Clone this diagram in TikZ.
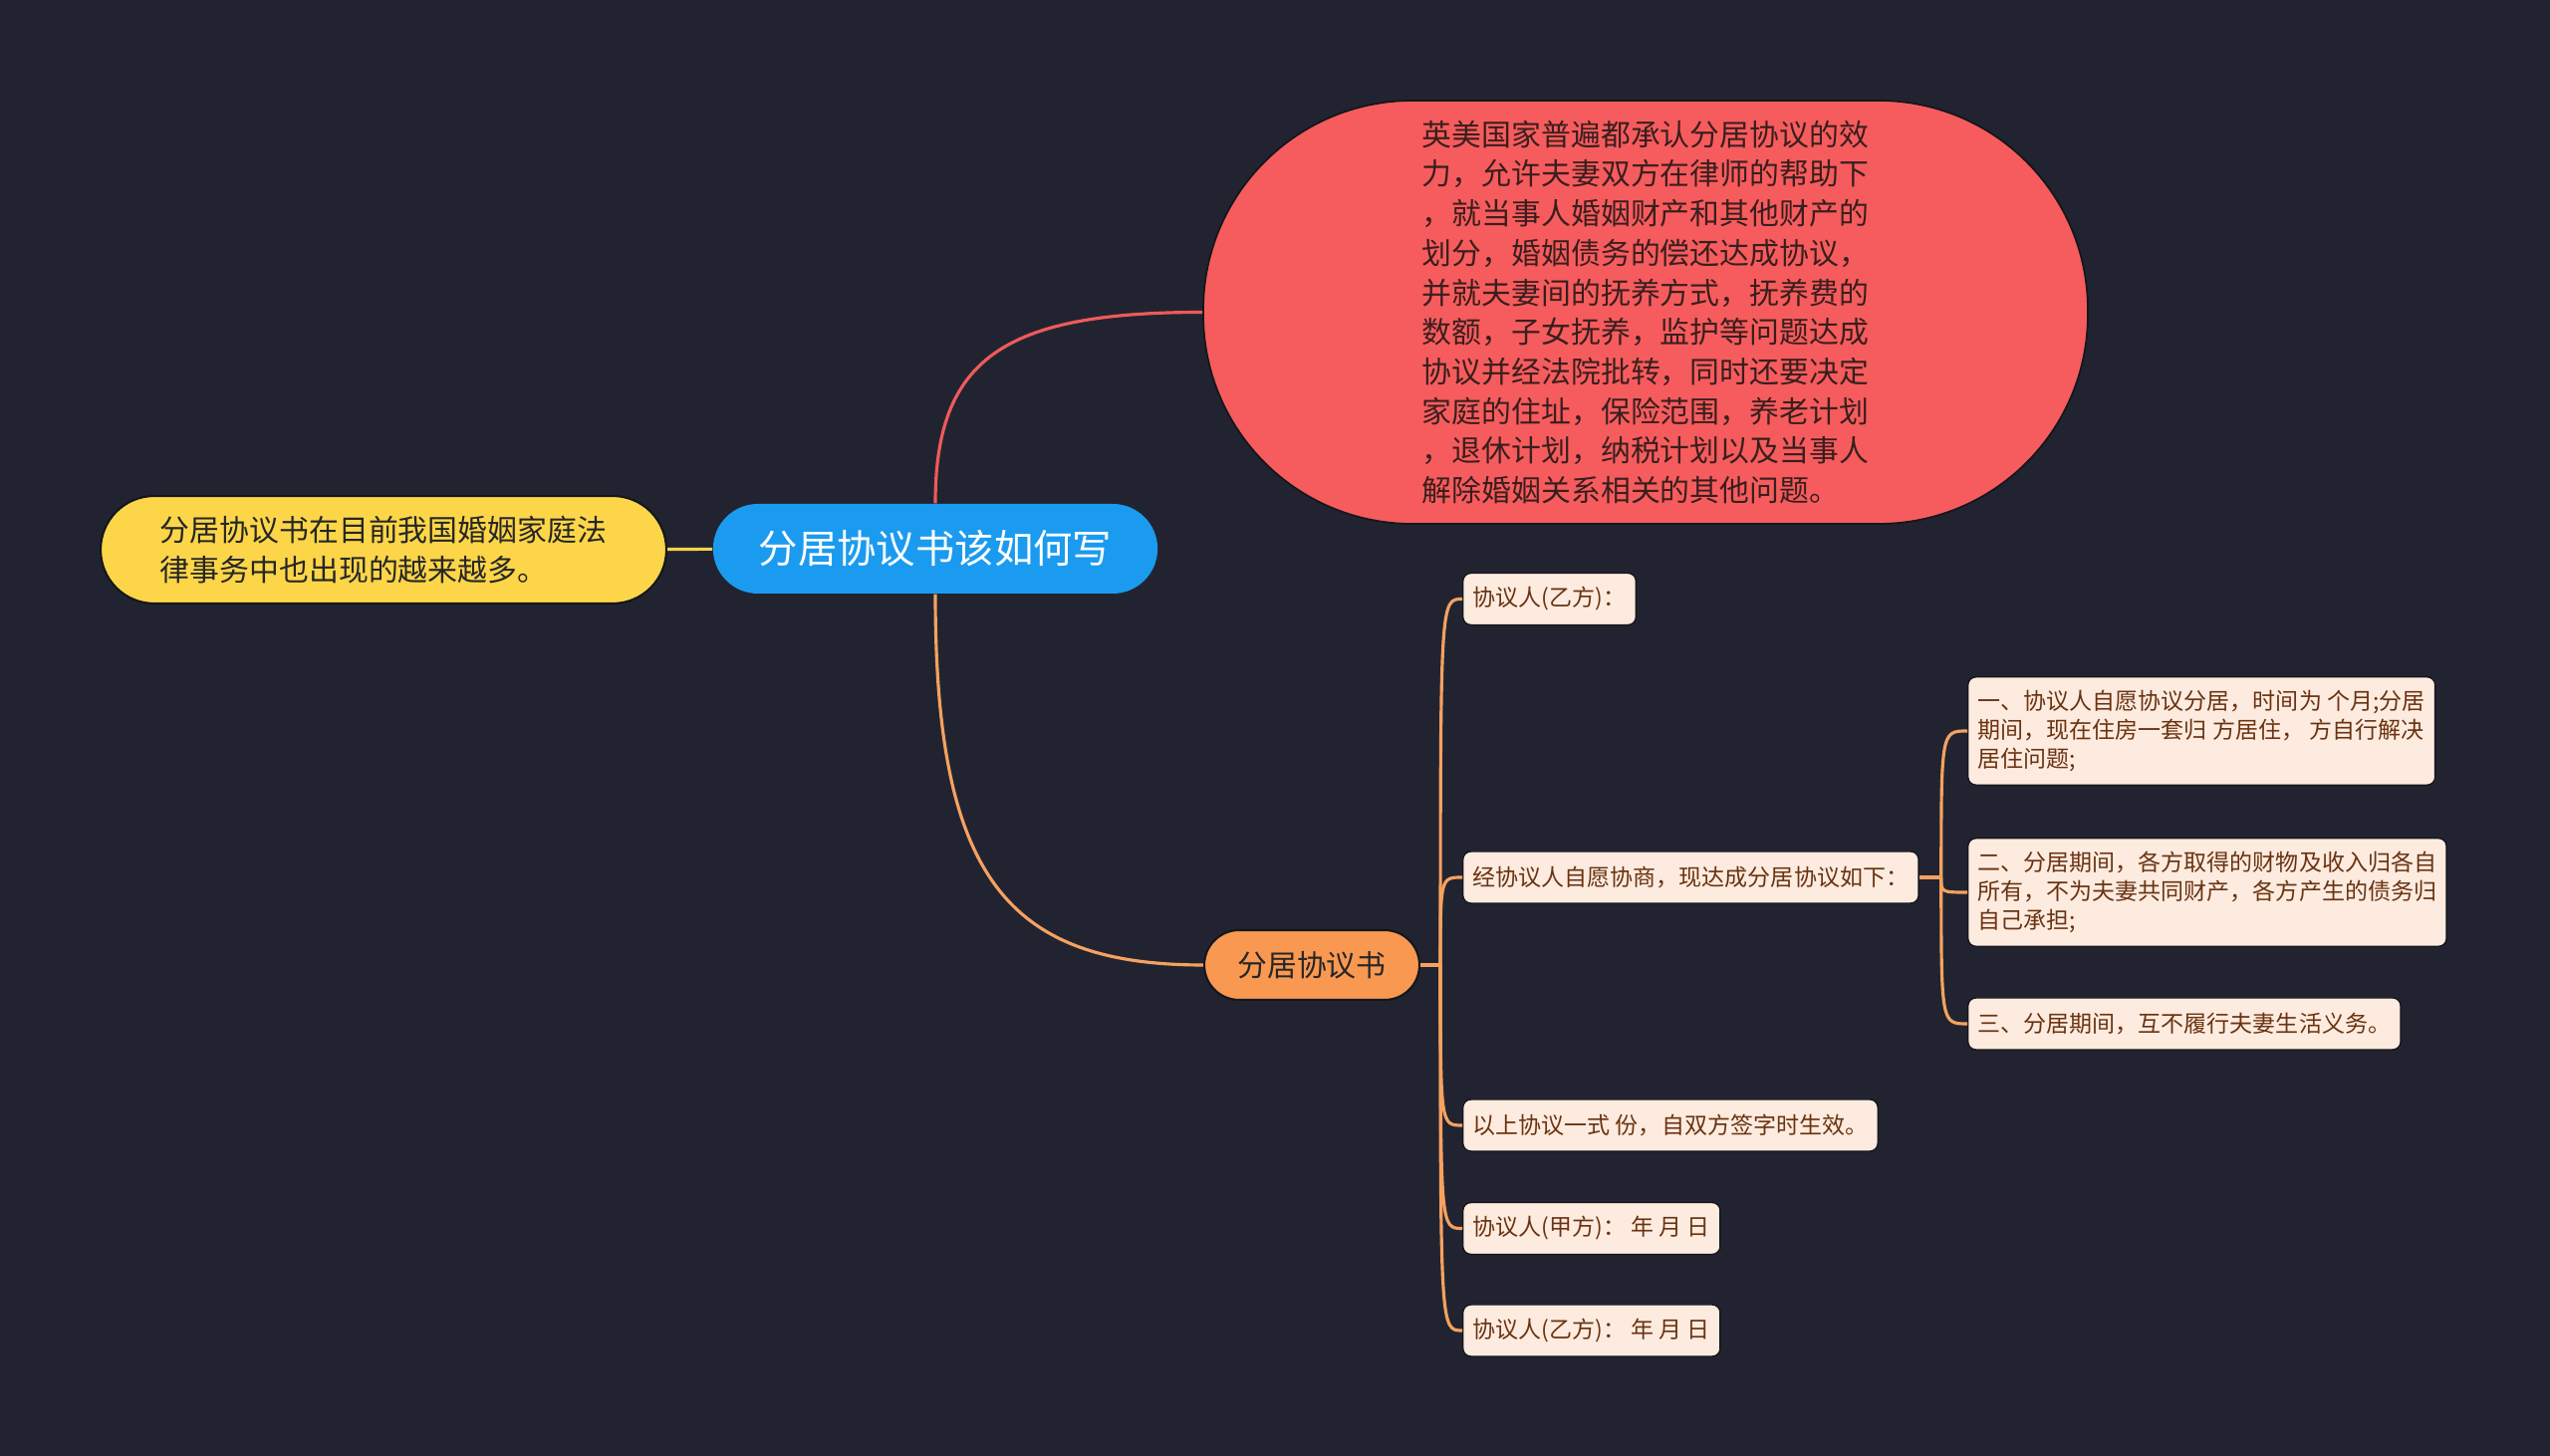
\documentclass[tikz,border=0pt]{standalone}
\usepackage{fontspec}
\setmainfont{Noto Sans CJK SC}
\usepackage{tikz}
\usetikzlibrary{positioning}
\definecolor{bg}{HTML}{212430}
\definecolor{rootblue}{HTML}{1B9BEF}
\definecolor{notebg}{HTML}{FCD648}
\definecolor{detailbg}{HTML}{F65C5D}
\definecolor{bookbg}{HTML}{F99851}
\definecolor{leafbg}{HTML}{FDEBDF}
\definecolor{leaftext}{HTML}{6A3311}
\definecolor{rim}{HTML}{15161C}
\definecolor{noteline}{HTML}{F5D34A}
\definecolor{detailline}{HTML}{EE5A5B}
\definecolor{bookline}{HTML}{F6A160}
\tikzstyle{rootnode} = [fill=rootblue, text=white, rounded corners=0.45cm, minimum height=0.9cm, inner xsep=0.46cm, font=\fontsize{11.2}{13}\selectfont]
\tikzstyle{notenode} = [fill=notebg, draw=rim, line width=0.6pt, rounded corners=0.54cm, minimum width=5.68cm, minimum height=1.08cm, align=left, text=black!85, font=\fontsize{8.5}{11.25}\selectfont]
\tikzstyle{detailnode} = [fill=detailbg, draw=rim, line width=0.5pt, rounded corners=2.1cm, minimum width=8.88cm, minimum height=4.25cm, align=left, text={rgb,255:red,58;green,30;blue,30}, font=\fontsize{8.5}{11.3}\selectfont]
\tikzstyle{booknode} = [fill=bookbg, draw=rim, line width=0.6pt, rounded corners=0.35cm, minimum width=2.16cm, minimum height=0.7cm, text=black!85, font=\fontsize{8.5}{10}\selectfont]
\tikzstyle{leaf} = [fill=leafbg, draw=rim, line width=0.4pt, rounded corners=0.08cm, anchor=west, align=left, inner xsep=0.1cm, inner ysep=0.13cm, minimum height=0.52cm, text=leaftext, font=\fontsize{6.55}{8.35}\selectfont]
\tikzstyle{link} = [line width=0.9pt]

\begin{document}
\begin{tikzpicture}
			\useasboundingbox (0,0) rectangle (25.6,-14.62);
			\fill[bg] (0,0) rectangle (25.6,-14.62);
			% main topic and its three branches
			\node[rootnode] (root) at (9.39,-5.51) {分居协议书该如何写};
			\node[notenode] (note) at (3.85,-5.52) {分居协议书在目前我国婚姻家庭法\\律事务中也出现的越来越多。};
			\node[detailnode] (detail) at (16.52,-3.135) {英美国家普遍都承认分居协议的效\\力，允许夫妻双方在律师的帮助下\\，就当事人婚姻财产和其他财产的\\划分，婚姻债务的偿还达成协议，\\并就夫妻间的抚养方式，抚养费的\\数额，子女抚养，监护等问题达成\\协议并经法院批转，同时还要决定\\家庭的住址，保险范围，养老计划\\，退休计划，纳税计划以及当事人\\解除婚姻关系相关的其他问题。};
			\node[booknode] (book) at (13.17,-9.69) {分居协议书};
			% items of the agreement
			\node[leaf] (l1) at (14.68,-6.015) {协议人(乙方)：};
			\node[leaf] (l2) at (14.68,-8.81) {经协议人自愿协商，现达成分居协议如下：};
			\node[leaf] (l3) at (14.68,-11.30) {以上协议一式 份，自双方签字时生效。};
			\node[leaf] (l4) at (14.68,-12.335) {协议人(甲方)： 年 月 日};
			\node[leaf] (l5) at (14.68,-13.36) {协议人(乙方)： 年 月 日};
			\node[leaf] (s1) at (19.75,-7.34) {一、协议人自愿协议分居，时间为 个月;分居\\期间，现在住房一套归 方居住， 方自行解决\\居住问题;};
			\node[leaf] (s2) at (19.75,-8.96) {二、分居期间，各方取得的财物及收入归各自\\所有，不为夫妻共同财产，各方产生的债务归\\自己承担;};
			\node[leaf] (s3) at (19.75,-10.28) {三、分居期间，互不履行夫妻生活义务。};
			\coordinate[right=0.2cm of book] (bookhub);
			\coordinate[right=0.22cm of l2] (planhub);
			% connectors
			\draw[link, noteline] (root) -- (note);
			\draw[link, detailline] (root.north) .. controls +(0,1.45) and +(-2,0) .. (detail.west);
			\draw[link, bookline] (root.south) .. controls +(0,-2.8) and +(-2,0) .. (book.west);
			\draw[link, bookline] (book) -- (bookhub);
			\foreach \leaf in {l1,l2,l3,l4,l5}
				\draw[link, bookline] (bookhub) .. controls (bookhub |- \leaf.west) and (bookhub |- \leaf.west) .. (\leaf.west);
			\draw[link, bookline] (l2) -- (planhub);
			\foreach \leaf in {s1,s2,s3}
				\draw[link, bookline] (planhub) .. controls (planhub |- \leaf.west) and (planhub |- \leaf.west) .. (\leaf.west);
		\end{tikzpicture}
\end{document}
